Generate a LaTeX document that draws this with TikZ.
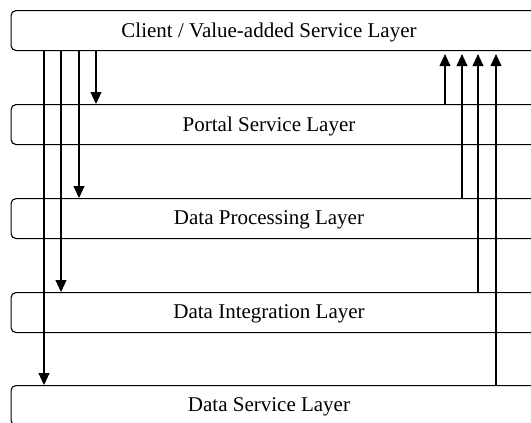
\documentclass[tikz,border=0pt]{standalone}
\usepackage{fontspec}
\setmainfont{Liberation Serif}
\usetikzlibrary{arrows.meta}
\begin{document}
\begin{tikzpicture}[x=1pt,y=-1pt,
  layer/.style={draw, rounded corners=5pt, line width=1.1pt, minimum width=560pt, minimum height=40pt, inner sep=0pt, anchor=north west},
  ltext/.style={font=\fontsize{21}{24}\selectfont, inner sep=0pt},
  arr/.style={line width=1.1pt, -{Triangle[length=12pt,width=11pt]}}]
\useasboundingbox (0,0) rectangle (531,423);
\node[layer] (L1) at (10.5,10) {};
\node[layer] (L2) at (10.5,104) {};
\node[layer] (L3) at (10.5,198) {};
\node[layer] (L4) at (10.5,292) {};
\node[layer] (L5) at (10.5,385) {};
\node[ltext] (T1) at (269,32) {Client / Value-added Service Layer};
\node[ltext] (T2) at (269,126) {Portal Service Layer};
\node[ltext] (T3) at (269,220) {Data Processing Layer};
\node[ltext] (T4) at (269,314) {Data Integration Layer};
\node[ltext] (T5) at (269,407) {Data Service Layer};
\coordinate (d5) at (44,0);
\coordinate (d4) at (61,0);
\coordinate (d3) at (79,0);
\coordinate (d2) at (96,0);
\coordinate (u2) at (445,0);
\coordinate (u3) at (462,0);
\coordinate (u4) at (478,0);
\coordinate (u5) at (496,0);
\draw[arr] (L1.south -| d2) -- (L2.north -| d2);
\draw[arr] (L1.south -| d3) -- (L3.north -| d3);
\draw[arr] (L1.south -| d4) -- (L4.north -| d4);
\draw[arr] (L1.south -| d5) -- (L5.north -| d5);
\draw[arr, shorten >=3pt] (L2.north -| u2) -- (L1.south -| u2);
\draw[arr, shorten >=3pt] (L3.north -| u3) -- (L1.south -| u3);
\draw[arr, shorten >=3pt] (L4.north -| u4) -- (L1.south -| u4);
\draw[arr, shorten >=3pt] (L5.north -| u5) -- (L1.south -| u5);
\end{tikzpicture}
\end{document}
